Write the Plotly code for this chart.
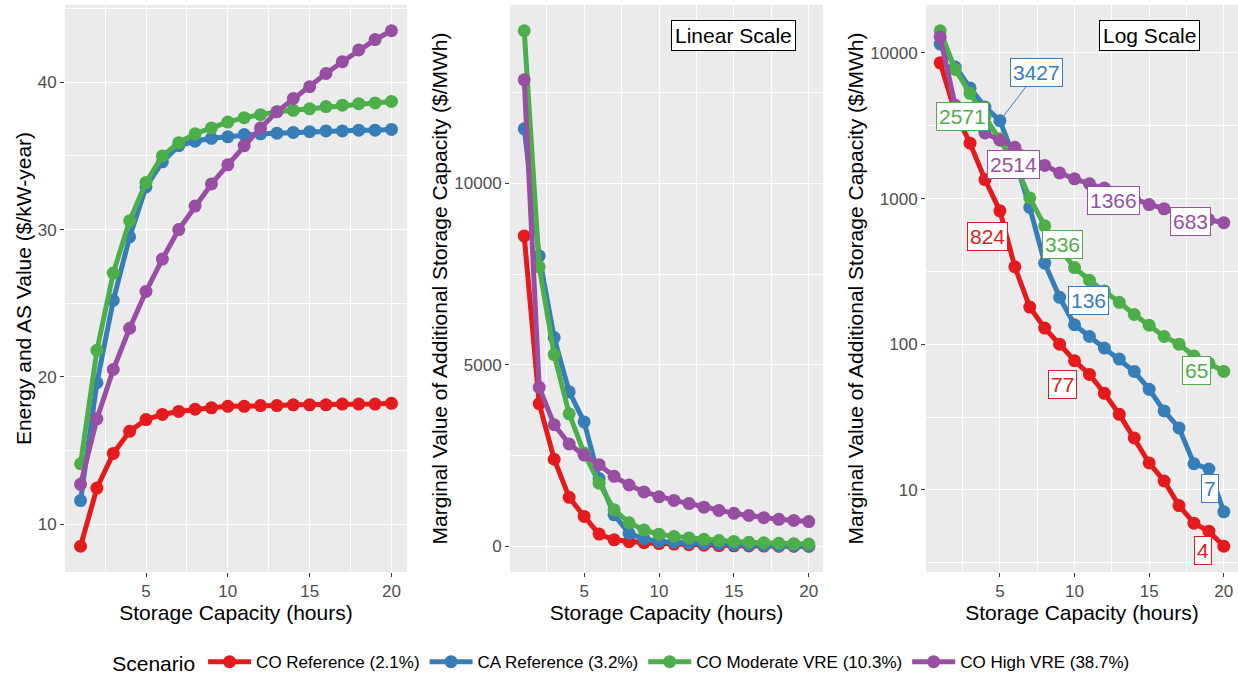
import math
import plotly.graph_objects as go

# ---------------- data ----------------
hours = list(range(1, 21))

scenarios = ["CO Reference (2.1%)", "CA Reference (3.2%)",
             "CO Moderate VRE (10.3%)", "CO High VRE (38.7%)"]
colors = ["#E41A1C", "#377EB8", "#4DAF4A", "#984EA3"]

energy_co_ref = [8.5, 12.45, 14.8, 16.3, 17.1, 17.45, 17.65, 17.8, 17.9, 18.0,
                 18.0, 18.05, 18.05, 18.1, 18.1, 18.1, 18.15, 18.15, 18.15, 18.2]
energy_ca_ref = [11.6, 19.6, 25.2, 29.5, 32.9, 34.6, 35.7, 36.0, 36.2, 36.3,
                 36.45, 36.5, 36.55, 36.6, 36.65, 36.7, 36.7, 36.75, 36.75, 36.8]
energy_co_mod = [14.1, 21.8, 27.05, 30.6, 33.2, 35.0, 35.9, 36.5, 36.9, 37.3,
                 37.6, 37.8, 38.0, 38.1, 38.2, 38.35, 38.45, 38.55, 38.6, 38.7]
energy_co_high = [12.7, 17.15, 20.5, 23.3, 25.8, 28.0, 30.0, 31.6, 33.1, 34.4,
                  35.7, 36.9, 38.0, 38.9, 39.7, 40.6, 41.4, 42.2, 42.9, 43.5]

marg_co_ref = [8550, 3930, 2400, 1350, 824, 340, 180, 129, 100, 77,
               62, 46, 33, 22.7, 15.3, 11.5, 7.8, 5.9, 5.2, 4.1]
marg_ca_ref = [11500, 8000, 5750, 4260, 3427, 1868, 870, 360, 210, 136,
               113, 94, 79, 65, 49, 34.8, 26.6, 15.1, 13.9, 7.06]
marg_co_mod = [14200, 7700, 5280, 3650, 2571, 1740, 1010, 650, 450, 336,
               275, 232, 194, 160, 135, 113, 100, 83, 74, 65]
marg_co_high = [12850, 4380, 3350, 2820, 2514, 2250, 1930, 1690, 1500, 1366,
                1265, 1180, 1080, 990, 910, 850, 790, 745, 715, 683]

energy = [energy_co_ref, energy_ca_ref, energy_co_mod, energy_co_high]
marginal = [marg_co_ref, marg_ca_ref, marg_co_mod, marg_co_high]

# labelled hours in the log panel
label_hours = [5, 10, 20]

# label offsets (px) per scenario, per labelled hour: (dx, dy up)
label_offsets = [
    [(-12, -26), (-12, -24), (-21, -4)],
    [(37, 48), (14, 24), (-14, 23)],
    [(-37, 22), (-12, 23), (-27, 1)],
    [(14, -24), (39, -22), (-33, 1)],
]

x_ticks = [5, 10, 15, 20]
x_minor = [2.5, 7.5, 12.5, 17.5]
left_ticks = [10, 20, 30, 40]
left_minor = [15, 25, 35, 45]
mid_ticks = [0, 5000, 10000]
mid_minor = [2500, 7500, 12500]
log_ticks = [10, 100, 1000, 10000]
log_minor = [10 ** 0.5, 10 ** 1.5, 10 ** 2.5, 10 ** 3.5]

# ---------------- figure ----------------
fig = go.Figure()

panels = [("x", "y", energy, True), ("x2", "y2", marginal, False), ("x3", "y3", marginal, False)]
for xa, ya, data, show in panels:
    for i, name in enumerate(scenarios):
        fig.add_trace(go.Scatter(
            x=hours, y=data[i], xaxis=xa, yaxis=ya, mode="lines+markers",
            name=name, legendgroup=name, showlegend=show,
            line=dict(color=colors[i], width=5),
            marker=dict(color=colors[i], size=13)))

W, H = 1238, 676
top_px, bot_px = 5, 572
ydom = [1 - bot_px / H, 1 - top_px / H]

FONT = "Liberation Sans, Arial, sans-serif"
tickfont = dict(family=FONT, size=17, color="#4D4D4D")
titlefont = dict(family=FONT, size=21, color="black")


def xaxis(domain, anchor):
    return dict(domain=domain, anchor=anchor, range=[0.05, 20.95],
                tickvals=x_ticks, ticktext=[str(v) for v in x_ticks],
                ticks="outside", ticklen=4, tickcolor="#333333", tickwidth=1,
                tickfont=tickfont, showgrid=True, gridcolor="white", gridwidth=1.2,
                minor=dict(tickvals=x_minor, showgrid=True, gridcolor="white",
                           gridwidth=0.6, ticks=""),
                zeroline=False, showline=False, automargin=False,
                title=dict(text="Storage Capacity (hours)", font=titlefont, standoff=4))


def yaxis(domain, anchor, rng, tv, minor, title, typ="linear", standoff=0):
    return dict(domain=domain, anchor=anchor, range=rng, type=typ,
                tickvals=tv, ticktext=[str(v) for v in tv],
                ticks="outside", ticklen=4, tickcolor="#333333", tickwidth=1,
                tickfont=tickfont, showgrid=True, gridcolor="white", gridwidth=1.2,
                minor=dict(tickvals=minor, showgrid=True, gridcolor="white",
                           gridwidth=0.6, ticks=""),
                zeroline=False, showline=False, automargin=False,
                title=dict(text=title, font=titlefont, standoff=standoff))


dom1 = [65 / W, 407 / W]
dom2 = [510 / W, 823 / W]
dom3 = [926 / W, 1.0]

lo_e, hi_e = min(min(s) for s in energy), max(max(s) for s in energy)
pad_e = (hi_e - lo_e) * 0.05
lo_m, hi_m = min(min(s) for s in marginal), max(max(s) for s in marginal)
pad_m = (hi_m - lo_m) * 0.05
llo, lhi = math.log10(lo_m), math.log10(hi_m)
pad_l = (lhi - llo) * 0.05

mv_title = "Marginal Value of Additional Storage Capacity ($/MWh)"

fig.update_layout(
    width=W, height=H,
    margin=dict(l=0, r=0, t=0, b=0, autoexpand=False),
    paper_bgcolor="white", plot_bgcolor="#EBEBEB",
    font=dict(family=FONT),
    xaxis=xaxis(dom1, "y"),
    xaxis2=xaxis(dom2, "y2"),
    xaxis3=xaxis(dom3, "y3"),
    yaxis=yaxis(ydom, "x", [lo_e - pad_e, hi_e + pad_e], left_ticks, left_minor,
                "Energy and AS Value ($/kW-year)", standoff=0),
    yaxis2=yaxis(ydom, "x2", [lo_m - pad_m, hi_m + pad_m], mid_ticks, mid_minor, mv_title),
    yaxis3=yaxis(ydom, "x3", [llo - pad_l, lhi + pad_l], log_ticks, log_minor, mv_title, "log"),
    legend=dict(orientation="h", x=0.503, xanchor="center", y=0.019, yanchor="middle",
                font=dict(family=FONT, size=17, color="black"),
                title=dict(text="Scenario", side="left", font=dict(family=FONT, size=21)),
                itemwidth=43, bgcolor="rgba(0,0,0,0)"),
    showlegend=True,
)

# the two panel boxes
for xr, text in [("x2", "Linear Scale"), ("x3", "Log Scale")]:
    fig.add_annotation(x=15, xref=xr, y=1 - 35.5 / H, yref="paper", text=text,
                       xanchor="center", yanchor="middle",
                       showarrow=False, font=dict(family=FONT, size=21, color="black"),
                       bgcolor="white", bordercolor="black", borderwidth=1, borderpad=3)

# value labels in the log panel
for i in range(4):
    for k, h in enumerate(label_hours):
        v = marginal[i][h - 1]
        dx, dy = label_offsets[i][k]
        lab = str(int(round(v)))
        base = dict(x=h, xref="x3", y=math.log10(v), yref="y3", text=lab,
                    font=dict(family=FONT, size=21, color=colors[i]), bgcolor="white",
                    bordercolor=colors[i], borderwidth=1, borderpad=2)
        if i == 1 and h == 5:
            fig.add_annotation(showarrow=True, ax=dx, ay=-dy, axref="pixel", ayref="pixel",
                               arrowhead=0, arrowwidth=1, arrowcolor=colors[i],
                               standoff=5, **base)
        else:
            fig.add_annotation(showarrow=False, xshift=dx, yshift=dy, **base)

fig.write_html("out.html")
